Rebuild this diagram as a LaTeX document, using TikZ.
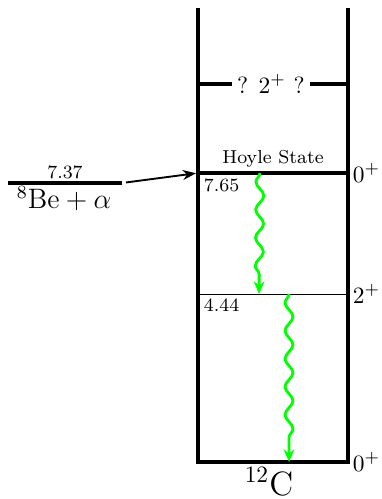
\documentclass[tikz,border=0pt]{standalone}
\usetikzlibrary{arrows.meta,decorations.pathmorphing}
\tikzset{
  level/.style={line width=1.4pt},
  gamma/.style={green, line width=1.2pt, decorate,
    decoration={snake, mirror, amplitude=0.6mm, segment length=4.2mm, post length=1.8mm},
    -{Stealth[length=1.9mm,width=1.6mm]}},
  energy/.style={font=\footnotesize, inner sep=1pt}
}
\begin{document}
\begin{tikzpicture}[x=0.15mm,y=-0.15mm]
    \useasboundingbox (0,0) rectangle (381,499);

    % Walls of the 12C level scheme
    \draw[level] (198,8) -- (198,462) -- (348,462) -- (348,8);

    % Uncertain 2+ state above the Hoyle state
    \node[inner sep=2pt] (twoplus) at (271,84) {? $2^+$ ?};
    \draw[level] (198,84) -- (twoplus.west);
    \draw[level] (twoplus.east) -- (348,84);

    % Hoyle state
    \coordinate (hoyleL) at (198,173);
    \coordinate (hoyleR) at (348,173);
    \draw[level] (hoyleL) -- (hoyleR);
    \node[energy, anchor=base] (hoyle) at (273,164) {Hoyle State};
    \node[energy, anchor=north west] (e765) at (201,176) {7.65};
    \node[anchor=west, inner sep=1pt] (j0a) at (350,173) {$0^+$};

    % First excited state
    \coordinate (firstL) at (198,294);
    \coordinate (firstR) at (348,294);
    \draw (firstL) -- (firstR);
    \node[energy, anchor=north west] (e444) at (201,296) {4.44};
    \node[anchor=west, inner sep=1pt] (j2) at (350,294) {$2^+$};

    % Ground state
    \node[anchor=west, inner sep=1pt] (j0b) at (350,462) {$0^+$};
    \node[font=\Large, anchor=base] (carbon) at (269,495) {$^{12}$C};

    % 8Be + alpha threshold
    \coordinate (beL) at (8,183);
    \coordinate (beR) at (122,183);
    \draw[level] (beL) -- (beR);
    \node[energy, anchor=base] (e737) at (65,179) {7.37};
    \node[font=\large, anchor=base] (bealpha) at (64,209) {$^8\mathrm{Be}+\alpha$};
    \draw[thick, shorten <=0.6mm, shorten >=0.3mm,
      -{Stealth[length=2mm,width=1.5mm]}] (beR) -- (hoyleL);

    % Gamma cascade
    \coordinate (g1a) at (260,173);
    \coordinate (g1b) at (259,294);
    \coordinate (g2a) at (289,294);
    \coordinate (g2b) at (289,462);
    \draw[gamma] (g1a) -- (g1b);
    \draw[gamma] (g2a) -- (g2b);
\end{tikzpicture}
\end{document}
